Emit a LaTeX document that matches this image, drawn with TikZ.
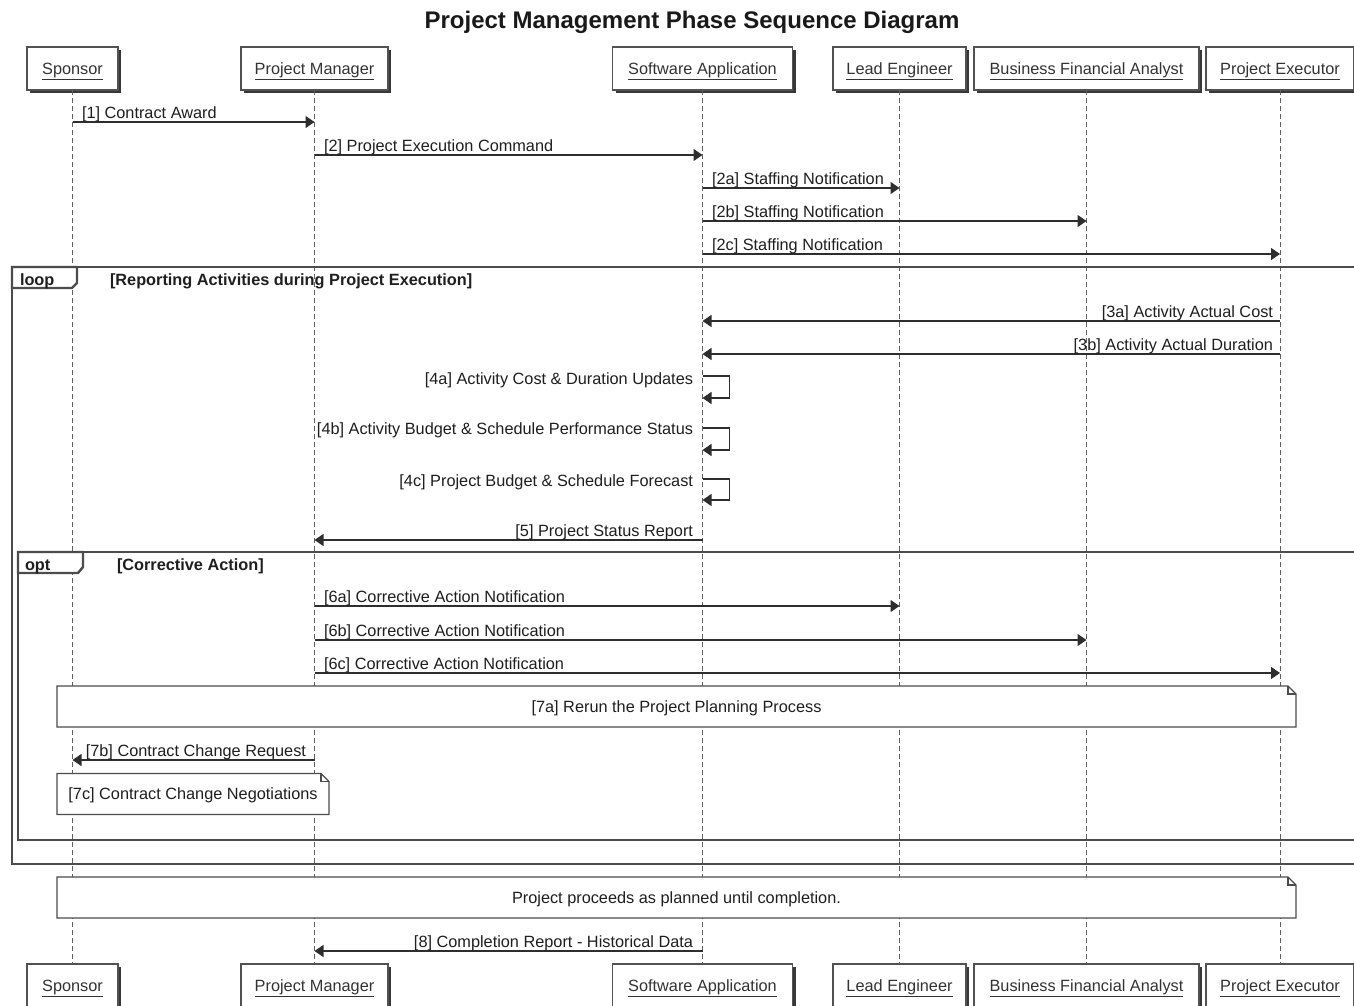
\documentclass[tikz,border=0pt]{standalone}
\usepackage{fontspec}
\setmainfont{Liberation Sans}
\usetikzlibrary{arrows.meta,shadows}

% outline of a note with a folded top-right corner
\newcommand\dogear[1]{%
  \draw[noteline] (#1.north west) -- ([xshift=-8pt]#1.north east)
    -- ([yshift=-8pt]#1.north east) -- (#1.south east) -- (#1.south west) -- cycle;
  \draw[noteline] ([xshift=-8pt]#1.north east) |- ([yshift=-8pt]#1.north east);}

\begin{document}
\begin{tikzpicture}[x=1pt,y=-1pt,
  every node/.style={inner sep=0pt, outer sep=0pt,
    font=\fontsize{16.3}{19}\selectfont, text=black!88},
  actor/.style={draw=black!68, line width=1.3pt, fill=white, minimum height=43pt,
    text=black!80, text height=11.7pt, text depth=0pt,
    general shadow={shadow xshift=3pt, shadow yshift=-3pt, fill=black!78}},
  lifeline/.style={draw=black!62, line width=1pt, dash pattern=on 5pt off 3pt},
  msg/.style={draw=black!82, line width=1.2pt,
    -{Triangle[length=9pt,width=12pt]}},
  frameline/.style={draw=black!70, line width=2.4pt},
  framelabel/.style={font=\fontsize{16.3}{19}\selectfont\bfseries, anchor=base west},
  lblR/.style={anchor=base west},
  lblL/.style={anchor=base east},
  note/.style={fill=white, minimum height=41pt, text height=11.7pt, text depth=0pt},
  noteline/.style={draw=black!70, line width=1.2pt},
]
\useasboundingbox (0,0) rectangle (1354,1006);
\clip (0,0) rectangle (1354,1006);
\fill[white] (0,0) rectangle (1354,1006);

% title
\node[font=\fontsize{24}{28}\selectfont\bfseries, anchor=base, text=black!90]
  (title) at (692,29) {Project Management Phase Sequence Diagram};

% participants, top row
\node[actor, minimum width=91pt]  (sp)  at (72.5,68.5)  {\underline{Sponsor}};
\node[actor, minimum width=147pt] (pm)  at (314.5,68.5) {\underline{Project Manager}};
\node[actor, minimum width=180pt] (sa)  at (702.5,68.5) {\underline{Software Application}};
\node[actor, minimum width=133pt] (le)  at (899.5,68.5) {\underline{Lead Engineer}};
\node[actor, minimum width=225pt] (bfa) at (1086.5,68.5){\underline{Business Financial Analyst}};
\node[actor, minimum width=148pt] (pe)  at (1280,68.5)  {\underline{Project Executor}};

% participants, bottom row
\node[actor, minimum width=91pt]  (spB)  at (72.5,985.5)  {\underline{Sponsor}};
\node[actor, minimum width=147pt] (pmB)  at (314.5,985.5) {\underline{Project Manager}};
\node[actor, minimum width=180pt] (saB)  at (702.5,985.5) {\underline{Software Application}};
\node[actor, minimum width=133pt] (leB)  at (899.5,985.5) {\underline{Lead Engineer}};
\node[actor, minimum width=225pt] (bfaB) at (1086.5,985.5){\underline{Business Financial Analyst}};
\node[actor, minimum width=148pt] (peB)  at (1280,985.5)  {\underline{Project Executor}};

% lifelines
\foreach \p in {sp,pm,sa,le,bfa,pe}
  \draw[lifeline] (\p.south) -- (\p B.north);

% loop frame
\draw[frameline] (12,267) rectangle (1364,864);
\draw[frameline, fill=white] (12,267) -- (77,267) -- (77,283) -- (72,288) -- (12,288) -- cycle;
\node[framelabel] (loopkw)  at (20,285)  {loop};
\node[framelabel] (loopcnd) at (110,285) {[Reporting Activities during Project Execution]};

% opt frame
\draw[frameline] (18,552) rectangle (1364,840);
\draw[frameline, fill=white] (18,552) -- (83,552) -- (83,567) -- (78,573) -- (18,573) -- cycle;
\node[framelabel] (optkw)  at (25,570)  {opt};
\node[framelabel] (optcnd) at (117,570) {[Corrective Action]};

% notes
\node[note, minimum width=1239pt] (n7a) at (676.5,706.5) {[7a] Rerun the Project Planning Process};
\dogear{n7a}
\node[note, minimum width=272pt] (n7c) at (193,794) {[7c] Contract Change Negotiations};
\dogear{n7c}
\node[note, minimum width=1239pt] (nend) at (676.5,897.5) {Project proceeds as planned until completion.};
\dogear{nend}

% messages
\draw[msg] (sp.south |- 0,122) -- (pm.south |- 0,122);
\node[lblR] (l1) at (82,118.5) {[1] Contract Award};

\draw[msg] (pm.south |- 0,155) -- (sa.south |- 0,155);
\node[lblR] (l2) at (324,151.5) {[2] Project Execution Command};

\draw[msg] (sa.south |- 0,188) -- (le.south |- 0,188);
\node[lblR] (l2a) at (712,184.5) {[2a] Staffing Notification};

\draw[msg] (sa.south |- 0,221) -- (bfa.south |- 0,221);
\node[lblR] (l2b) at (712,217.5) {[2b] Staffing Notification};

\draw[msg] (sa.south |- 0,254) -- (pe.south |- 0,254);
\node[lblR] (l2c) at (712,250.5) {[2c] Staffing Notification};

\draw[msg] (pe.south |- 0,321) -- (sa.south |- 0,321);
\node[lblL] (l3a) at (1273,317.5) {[3a] Activity Actual Cost};

\draw[msg] (pe.south |- 0,354) -- (sa.south |- 0,354);
\node[lblL] (l3b) at (1273,350.5) {[3b] Activity Actual Duration};

\draw[msg] (sa.south |- 0,376) -- ++(27,0) -- ++(0,22) -- (sa.south |- 0,398);
\node[lblL] (l4a) at (693,384.5) {[4a] Activity Cost \& Duration Updates};

\draw[msg] (sa.south |- 0,428) -- ++(27,0) -- ++(0,22) -- (sa.south |- 0,450);
\node[lblL] (l4b) at (693,434.5) {[4b] Activity Budget \& Schedule Performance Status};

\draw[msg] (sa.south |- 0,479) -- ++(27,0) -- ++(0,21) -- (sa.south |- 0,500);
\node[lblL] (l4c) at (693,486.5) {[4c] Project Budget \& Schedule Forecast};

\draw[msg] (sa.south |- 0,540) -- (pm.south |- 0,540);
\node[lblL] (l5) at (693,536.5) {[5] Project Status Report};

\draw[msg] (pm.south |- 0,606) -- (le.south |- 0,606);
\node[lblR] (l6a) at (324,602.5) {[6a] Corrective Action Notification};

\draw[msg] (pm.south |- 0,640) -- (bfa.south |- 0,640);
\node[lblR] (l6b) at (324,636.5) {[6b] Corrective Action Notification};

\draw[msg] (pm.south |- 0,673) -- (pe.south |- 0,673);
\node[lblR] (l6c) at (324,669.5) {[6c] Corrective Action Notification};

\draw[msg] (pm.south |- 0,760) -- (sp.south |- 0,760);
\node[lblL] (l7b) at (306,756.5) {[7b] Contract Change Request};

\draw[msg] (sa.south |- 0,951) -- (pm.south |- 0,951);
\node[lblL] (l8) at (693,947.5) {[8] Completion Report - Historical Data};

\end{tikzpicture}
\end{document}
